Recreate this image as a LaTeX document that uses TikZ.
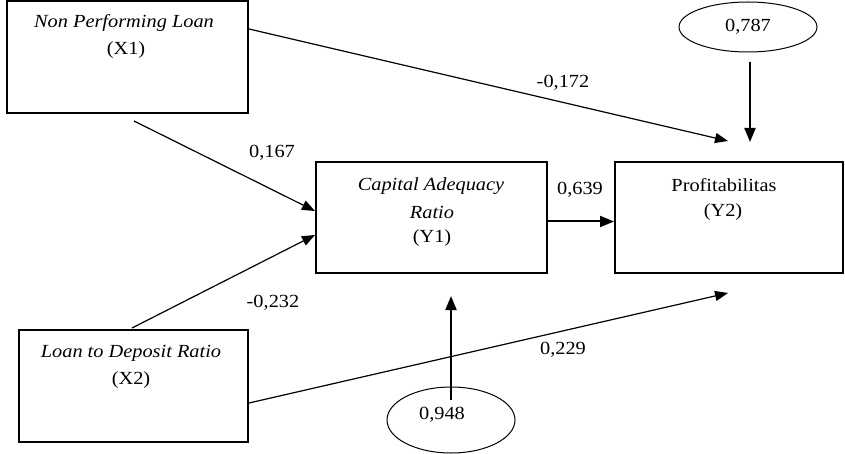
\documentclass[tikz,border=0pt]{standalone}
\usepackage{fontspec}
\setmainfont{Liberation Serif}[FakeStretch=1.1]
\usetikzlibrary{arrows.meta,shapes.geometric,calc}
\begin{document}
\begin{tikzpicture}[x=1pt,y=-1pt,
  box/.style={draw, line width=2pt, inner sep=0pt, rectangle},
  txt/.style={font=\fontsize{18.5}{22}\selectfont, inner sep=0pt},
  oval/.style={draw, ellipse, line width=1pt, inner sep=0pt},
  arr/.style={-{Triangle[length=13pt,width=10pt]}, line width=1.2pt},
  thickarr/.style={-{Triangle[length=14pt,width=11pt]}, line width=2pt}]
\useasboundingbox (0,0) rectangle (845,454);
% boxes
\node[box, minimum width=241pt, minimum height=112pt] (x1) at (127.5,57) {};
\node[box, minimum width=231pt, minimum height=111pt] (y1) at (431.5,217.5) {};
\node[box, minimum width=228pt, minimum height=111pt] (y2) at (729,217.5) {};
\node[box, minimum width=229pt, minimum height=112pt] (x2) at (133.5,386) {};
% ovals
\node[oval, minimum width=138pt, minimum height=50pt] (o1) at (748,27) {};
\node[oval, minimum width=128pt, minimum height=66pt] (o2) at (451,420) {};
% box texts
\node[txt] (x1a) at (124,23) {\textit{Non Performing Loan}};
\node[txt] (x1b) at (126,50) {(X1)};
\node[txt] (y1a) at (431,186) {\textit{Capital Adequacy}};
\node[txt] (y1b) at (432,212) {\textit{Ratio}};
\node[txt] (y1c) at (432,238) {(Y1)};
\node[txt] (y2a) at (724,185) {Profitabilitas};
\node[txt] (y2b) at (723,212) {(Y2)};
\node[txt] (x2a) at (131,353) {\textit{Loan to Deposit Ratio}};
\node[txt] (x2b) at (131,380) {(X2)};
\node[txt] (o1t) at (748,27) {0,787};
\node[txt] (o2t) at (442,415) {0,948};
% path labels
\node[txt] (l1) at (563,83) {-0,172};
\node[txt] (l2) at (272,153) {0,167};
\node[txt] (l3) at (273,303) {-0,232};
\node[txt] (l4) at (580,190) {0,639};
\node[txt] (l5) at (563,350) {0,229};
% free ends
\coordinate (p1) at ($(y2.north)+(-1,-20)$);
\coordinate (p2) at ($(y2.south)+(-1,19)$);
% connectors
\draw[arr] ($(x1.north east)+(0,29)$) -- (p1);
\draw[arr] ($(x1.south west)+(128,7)$) -- ($(y1.north west)+(0,50)$);
\draw[arr] ($(x2.north west)+(114,-1)$) -- ($(y1.north west)+(0,74)$);
\draw[thickarr] ($(y1.east)+(0,4)$) -- ($(y2.west)+(0,4)$);
\draw[arr] ($(x2.north east)+(0,74)$) -- (p2);
\draw[thickarr] ($(o1.south)+(2,10)$) -- ($(y2.north)+(21,-19)$);
\draw[thickarr] ($(o2.center)+(0,-20)$) -- ($(y1.south)+(19.5,22)$);
\end{tikzpicture}
\end{document}
